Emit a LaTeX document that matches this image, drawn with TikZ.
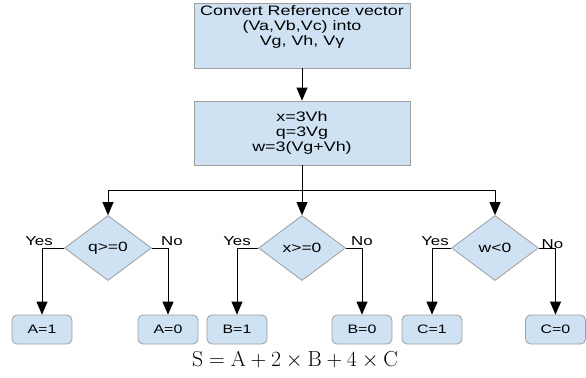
\documentclass[tikz,border=0pt]{standalone}
\usepackage{fontspec}
\newfontfamily\diagfont[FakeStretch=1.3]{Liberation Sans}
\usetikzlibrary{arrows.meta,shapes.geometric}
\definecolor{boxfill}{HTML}{CFE2F3}
\definecolor{boxline}{HTML}{9E9E9E}
\begin{document}
\begin{tikzpicture}[x=1bp,y=-1bp,
  procbox/.style={draw=boxline, fill=boxfill, line width=0.8bp, minimum width=216bp,
    align=center, inner sep=0pt, font=\diagfont\fontsize{13.8}{15}\selectfont},
  decision/.style={diamond, draw=boxline, fill=boxfill, line width=0.8bp,
    minimum width=87bp, minimum height=65bp, inner sep=0pt,
    font=\diagfont\fontsize{13.5}{15}\selectfont},
  result/.style={draw=boxline, fill=boxfill, line width=0.8bp, rounded corners=5bp,
    minimum width=60bp, minimum height=29bp, inner sep=0pt,
    font=\diagfont\fontsize{12.3}{14}\selectfont},
  branch/.style={font=\diagfont\fontsize{13}{14}\selectfont, anchor=south, inner sep=1.5bp},
  link/.style={draw=black, line width=0.8bp},
  flow/.style={link, -{Triangle[width=11bp,length=13bp]}},
]
\useasboundingbox (0,0) rectangle (586,377);

% processing steps
\node[procbox, minimum height=65bp] (conv) at (302,35.5)
  {Convert Reference vector\\(Va,Vb,Vc) into\\Vg, Vh, Vγ\\\strut};
\node[procbox, minimum height=64bp] (calc) at (302,133)
  {x=3Vh\\q=3Vg\\w=3(Vg+Vh)};
\coordinate (split) at (302,190);

% decisions
\node[decision] (dq) at (108,248) {q>=0};
\node[decision] (dx) at (302,248) {x>=0};
\node[decision] (dw) at (495,248) {w<0};

% outcomes
\node[result] (a1) at (42,329.5) {A=1};
\node[result] (a0) at (168,329.5) {A=0};
\node[result] (b1) at (237,329.5) {B=1};
\node[result] (b0) at (362,329.5) {B=0};
\node[result] (c1) at (432,329.5) {C=1};
\node[result] (c0) at (555.5,329.5) {C=0};

% connectors
\draw[flow] (conv) -- (calc);
\draw[link] (calc) -- (split);
\draw[flow] (split) -| (dq);
\draw[flow] (split) -- (dx);
\draw[flow] (split) -| (dw);

\draw[flow] (dq.west) -| node[branch, pos=0.5, xshift=-3bp] {Yes} (a1);
\draw[flow] (dq.east) -| node[branch, pos=0.5, xshift=4bp] {No} (a0);
\draw[flow] (dx.west) -| node[branch, pos=0.5] {Yes} (b1);
\draw[flow] (dx.east) -| node[branch, pos=0.5] {No} (b0);
\draw[flow] (dw.west) -| node[branch, pos=0.5, xshift=3bp] {Yes} (c1);
\draw[flow] (dw.east) -| node[branch, pos=0.5, xshift=-3bp, yshift=-3bp] {No} (c0);

% code sum
\node[font=\fontsize{20.74}{24}\selectfont, inner sep=0pt] (sum) at (295,360)
  {\scalebox{1.05}{$\mathrm{S}=\mathrm{A}+2\times\mathrm{B}+4\times\mathrm{C}$}};
\end{tikzpicture}
\end{document}
